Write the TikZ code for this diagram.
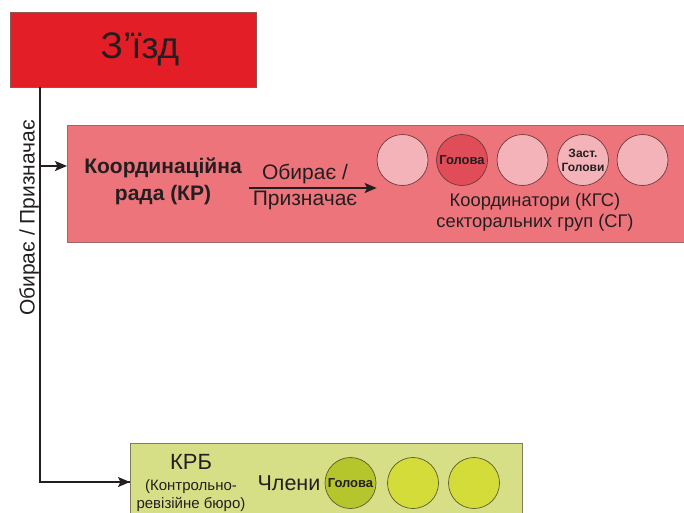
\documentclass[tikz,border=0pt]{standalone}
\usepackage{fontspec}
\setmainfont{Liberation Sans}
\usetikzlibrary{arrows.meta}
\definecolor{txt}{HTML}{231F20}
\definecolor{redfill}{HTML}{E31E26}
\definecolor{redline}{HTML}{8A5A50}
\definecolor{pinkfill}{HTML}{EE747B}
\definecolor{pinkline}{HTML}{9A6868}
\definecolor{lpink}{HTML}{F4B3B8}
\definecolor{dpink}{HTML}{E14C59}
\definecolor{circline}{HTML}{6B3A3A}
\definecolor{greenfill}{HTML}{D7DF86}
\definecolor{greenline}{HTML}{7E7E5A}
\definecolor{gcirc}{HTML}{D4DC3A}
\definecolor{gdark}{HTML}{B5C62C}
\definecolor{gcline}{HTML}{5A5A30}
\tikzset{
  boxbase/.style={draw, line width=0.8pt, inner sep=0pt, anchor=north west},
  topbox/.style={boxbase, fill=redfill, draw=redline},
  pinkbox/.style={boxbase, fill=pinkfill, draw=pinkline},
  greenbox/.style={boxbase, fill=greenfill, draw=greenline},
  pcirc/.style={circle, draw=circline, line width=0.7pt, minimum size=51pt, inner sep=0pt, fill=lpink, text=txt, font=\bfseries\fontsize{13}{14}\selectfont, align=center},
  gcircst/.style={circle, draw=gcline, line width=0.7pt, minimum size=51pt, inner sep=0pt, fill=gcirc, text=txt, font=\bfseries\fontsize{13}{14}\selectfont, align=center},
  lbl/.style={text=txt, inner sep=0pt, align=center},
  conn/.style={draw=txt, line width=1.5pt},
  arr/.style={conn, -{Stealth[length=12pt, width=10pt, inset=2.5pt]}},
}
\begin{document}
\begin{tikzpicture}[x=1pt, y=-1pt]
\useasboundingbox (0,0) rectangle (684,512);
\clip (0,0) rectangle (684,512);
% boxes
\node[topbox, minimum width=246pt, minimum height=75pt] (zizd) at (10,12) {};
\node[lbl, font=\fontsize{37}{40}\selectfont] (zizdt) at (140,49) {З’їзд};
\node[pinkbox, minimum width=630pt, minimum height=117pt] (kgs) at (67,125) {};
\node[greenbox, minimum width=392pt, minimum height=82pt] (krb) at (130,443) {};
% pink contents
\node[lbl, font=\bfseries\fontsize{21}{27}\selectfont] (kr) at (163,181) {Координаційна\\рада (КР)};
\node[pcirc] (c1) at (402.5,160) {};
\node[pcirc, fill=dpink] (c2) at (462,160) {Голова};
\node[pcirc] (c3) at (522.5,160) {};
\node[pcirc, font=\bfseries\fontsize{12}{14}\selectfont] (c4) at (583,160) {Заст.\\Голови};
\node[pcirc] (c5) at (642.5,160) {};
\node[lbl, font=\fontsize{18.3}{21}\selectfont] (kgst) at (535,212) {Координатори (КГС)\\секторальних груп (СГ)};
\coordinate (a1) at (249,188);
\draw[arr] (a1) -- (c1.west |- a1);
\node[lbl, font=\fontsize{21}{22}\selectfont, anchor=south] (ob1) at (305,184) {Обирає /};
\node[lbl, font=\fontsize{21}{22}\selectfont, anchor=north] (ob2) at (305,191) {Призначає};
% green contents
\node[lbl, font=\fontsize{22}{23}\selectfont] (krbt) at (191,462) {КРБ};
\node[lbl, font=\fontsize{15}{18}\selectfont] (krbs) at (191,496) {(Контрольно-\\ревізійне бюро)};
\node[lbl, font=\fontsize{21.5}{22}\selectfont] (chl) at (289,483) {Члени};
\node[gcircst, fill=gdark] (g1) at (350.5,483) {Голова};
\node[gcircst] (g2) at (413,483) {};
\node[gcircst] (g3) at (474,483) {};
% connectors
\coordinate (v0) at (40,87);
\coordinate (b1) at (40,166);
\coordinate (corner) at (40,482);
\draw[conn] (v0) -- (corner) -- (corner -| krb.west);
\draw[arr] (corner) -- (corner -| krb.west);
\draw[arr] (b1) -- (b1 -| kgs.west);
\node[lbl, rotate=90, font=\fontsize{21}{22}\selectfont] (vlab) at (29,218) {Обирає / Призначає};
\end{tikzpicture}
\end{document}
